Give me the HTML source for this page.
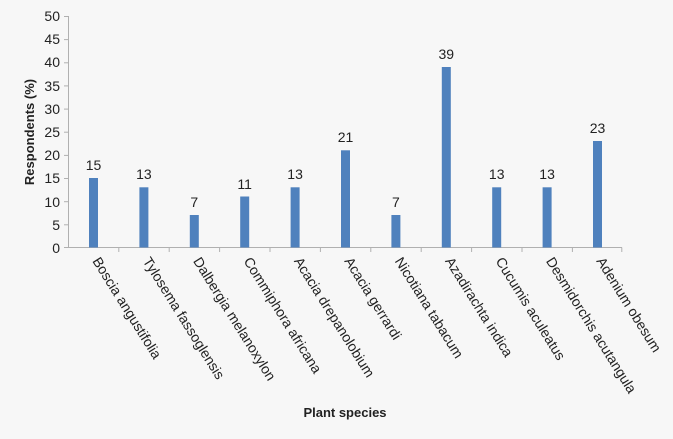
<!DOCTYPE html>
<html><head><style>
html,body{margin:0;padding:0;background:#f7f7f7;}
svg{display:block;font-family:"Liberation Sans",Arial,sans-serif;}
</style></head><body>
<svg width="673" height="439" viewBox="0 0 673 439" xmlns="http://www.w3.org/2000/svg">
<rect width="673" height="439" fill="#f7f7f7"/>
<g stroke="#b0b0b0" stroke-width="1" fill="none">
<line x1="68.5" y1="16" x2="68.5" y2="248"/>
<line x1="68.5" y1="247.5" x2="622" y2="247.5"/>
<line x1="64" y1="16.5" x2="68.5" y2="16.5"/>
<line x1="64" y1="39.6" x2="68.5" y2="39.6"/>
<line x1="64" y1="62.8" x2="68.5" y2="62.8"/>
<line x1="64" y1="85.9" x2="68.5" y2="85.9"/>
<line x1="64" y1="109.1" x2="68.5" y2="109.1"/>
<line x1="64" y1="132.2" x2="68.5" y2="132.2"/>
<line x1="64" y1="155.4" x2="68.5" y2="155.4"/>
<line x1="64" y1="178.5" x2="68.5" y2="178.5"/>
<line x1="64" y1="201.7" x2="68.5" y2="201.7"/>
<line x1="64" y1="224.8" x2="68.5" y2="224.8"/>
<line x1="64" y1="247.5" x2="68.5" y2="247.5"/>
<line x1="118.8" y1="247.5" x2="118.8" y2="252"/>
<line x1="169.2" y1="247.5" x2="169.2" y2="252"/>
<line x1="219.6" y1="247.5" x2="219.6" y2="252"/>
<line x1="270" y1="247.5" x2="270" y2="252"/>
<line x1="320.4" y1="247.5" x2="320.4" y2="252"/>
<line x1="370.8" y1="247.5" x2="370.8" y2="252"/>
<line x1="421.2" y1="247.5" x2="421.2" y2="252"/>
<line x1="471.6" y1="247.5" x2="471.6" y2="252"/>
<line x1="522" y1="247.5" x2="522" y2="252"/>
<line x1="572.4" y1="247.5" x2="572.4" y2="252"/>
<line x1="621.8" y1="247.5" x2="621.8" y2="252"/>
</g>
<g font-size="14" fill="#222" text-anchor="end">
<text x="60" y="21">50</text><text x="60" y="44">45</text><text x="60" y="67">40</text>
<text x="60" y="91">35</text><text x="60" y="114">30</text><text x="60" y="137">25</text>
<text x="60" y="160">20</text><text x="60" y="183">15</text><text x="60" y="207">10</text>
<text x="60" y="230">5</text><text x="60" y="253">0</text>
</g>
<text transform="translate(34,132) rotate(-90)" text-anchor="middle" font-size="13" font-weight="bold" fill="#222">Respondents (%)</text>
<text x="345" y="417" text-anchor="middle" font-size="13" font-weight="bold" fill="#222">Plant species</text>
<g fill="#4f81bd">
<rect x="89" y="178" width="9" height="69.5"/>
<rect x="139.4" y="187.3" width="9" height="60.2"/>
<rect x="189.8" y="215" width="9" height="32.5"/>
<rect x="240.2" y="196.5" width="9" height="51"/>
<rect x="290.6" y="187.3" width="9" height="60.2"/>
<rect x="341" y="150.3" width="9" height="97.2"/>
<rect x="391.4" y="215" width="9" height="32.5"/>
<rect x="441.8" y="67" width="9" height="180.5"/>
<rect x="492.2" y="187.3" width="9" height="60.2"/>
<rect x="542.6" y="187.3" width="9" height="60.2"/>
<rect x="593" y="141" width="9" height="106.5"/>
</g>
<g font-size="14" fill="#222" text-anchor="middle">
<text x="93.5" y="170">15</text><text x="143.9" y="179">13</text><text x="194.3" y="207">7</text>
<text x="244.7" y="189">11</text><text x="295.1" y="179">13</text><text x="345.5" y="142">21</text>
<text x="395.9" y="207">7</text><text x="446.3" y="59">39</text><text x="496.7" y="179">13</text>
<text x="547.1" y="179">13</text><text x="597.5" y="133">23</text>
</g>
<g font-size="14" fill="#222">
<text transform="translate(92,261) rotate(58)">Boscia angustifolia</text>
<text transform="translate(142.4,261) rotate(58)">Tylosema fassoglensis</text>
<text transform="translate(192.8,261) rotate(58)">Dalbergia melanoxylon</text>
<text transform="translate(243.2,261) rotate(58)">Commiphora africana</text>
<text transform="translate(293.6,261) rotate(58)">Acacia drepanolobium</text>
<text transform="translate(344,261) rotate(58)">Acacia gerrardi</text>
<text transform="translate(394.4,261) rotate(58)">Nicotiana tabacum</text>
<text transform="translate(444.8,261) rotate(58)">Azadirachta indica</text>
<text transform="translate(495.2,261) rotate(58)">Cucumis aculeatus</text>
<text transform="translate(545.6,261) rotate(58)">Desmidorchis acutangula</text>
<text transform="translate(596,261) rotate(58)">Adenium obesum</text>
</g>
</svg>
</body></html>
